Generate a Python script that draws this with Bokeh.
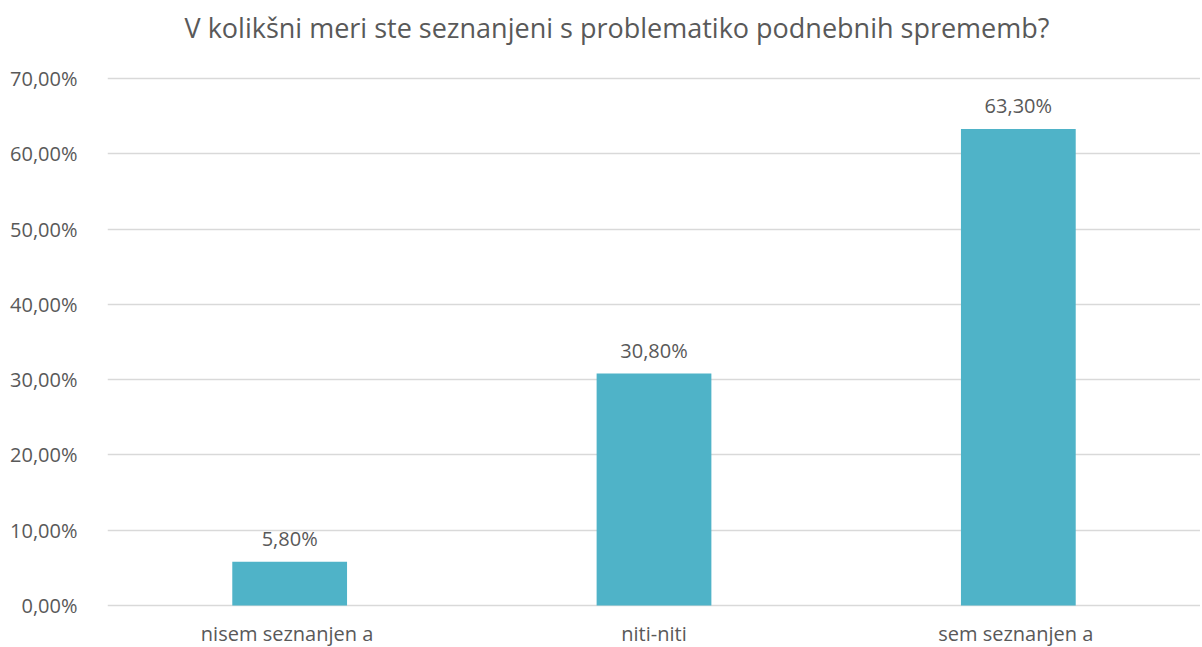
from bokeh.plotting import figure
from bokeh.models import ColumnDataSource, FactorRange, Range1d, FixedTicker, LabelSet
from bokeh.embed import file_html
from bokeh.resources import INLINE
from bokeh.core.properties import value

title_text = "V kolikšni meri ste seznanjeni s problematiko podnebnih sprememb?"
categories = ["nisem seznanjen  a", "niti-niti", "sem seznanjen  a"]
values = [5.80, 30.80, 63.30]
tick_values = [0, 10, 20, 30, 40, 50, 60, 70]
tick_labels = ["0,00%", "10,00%", "20,00%", "30,00%", "40,00%", "50,00%", "60,00%", "70,00%"]
bar_labels = ["5,80%", "30,80%", "63,30%"]

FONT = "Open Sans"
GREY = "#595959"
LBL = "20px"

src = ColumnDataSource(dict(cat=categories, val=values, lab=bar_labels,
                            zero=[0] * len(categories)))
tsrc = ColumnDataSource(dict(x=[categories[1]], y=[tick_values[-1]], t=[title_text]))

# the frame spans the whole canvas; ticks/grid only at 0..70
p = figure(width=1200, height=646, x_range=FactorRange(*categories, range_padding=0),
           y_range=Range1d(-5.446, 80.36), output_backend="svg", toolbar_location=None,
           min_border_left=107, min_border_right=0, min_border_top=0, min_border_bottom=0)

p.vbar(x="cat", top="val", width=0.315, source=src, color="#4fb3c8", line_color=None)

labels = LabelSet(x="cat", y="val", text="lab", source=src, text_align="center",
                  text_baseline="alphabetic", y_offset=16, text_font=value(FONT),
                  text_font_size=LBL, text_color=GREY)
p.add_layout(labels)

cat_labels = LabelSet(x="cat", y="zero", text="cat", source=src, text_align="center",
                      text_baseline="alphabetic", y_offset=-36, text_font=value(FONT),
                      text_font_size=LBL, text_color=GREY)
p.add_layout(cat_labels)

title = LabelSet(x="x", y="y", text="t", source=tsrc, text_align="center",
                 text_baseline="alphabetic", x_offset=-37, y_offset=40,
                 text_font=value(FONT), text_font_size="27px", text_color=GREY)
p.add_layout(title)

p.yaxis.ticker = FixedTicker(ticks=tick_values)
p.yaxis.major_label_overrides = {t: l for t, l in zip(tick_values, tick_labels)}
p.yaxis.axis_line_color = None
p.yaxis.major_tick_line_color = None
p.yaxis.minor_tick_line_color = None
p.yaxis.major_label_text_font = FONT
p.yaxis.major_label_text_font_size = LBL
p.yaxis.major_label_text_color = GREY
p.yaxis.major_label_standoff = 24

p.xaxis.visible = False

p.xgrid.grid_line_color = None
p.ygrid.grid_line_color = "#d9d9d9"
p.ygrid.grid_line_width = 1.5
p.outline_line_color = None

open("out.html", "w").write(file_html(p, INLINE))
